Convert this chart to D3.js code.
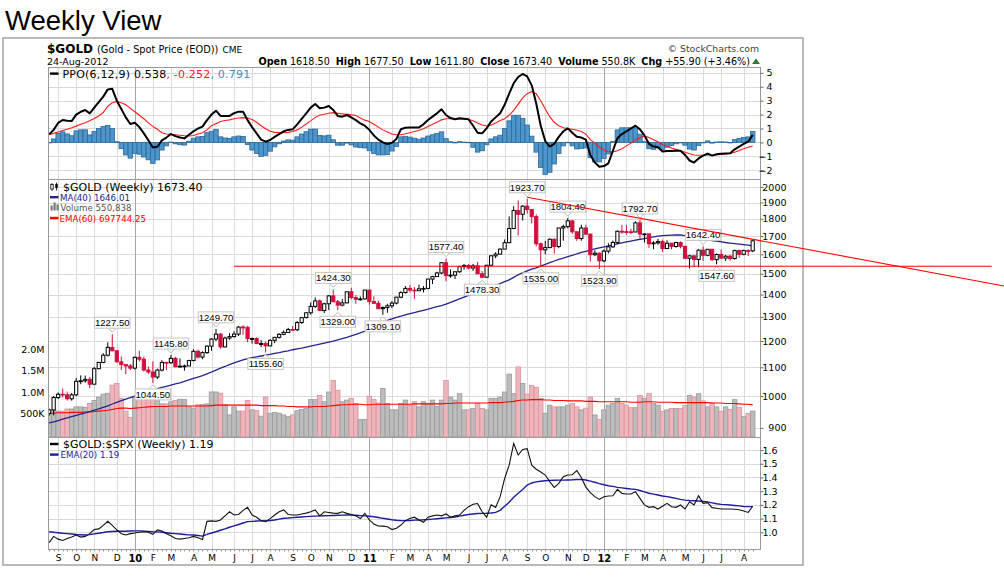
<!DOCTYPE html>
<html><head><meta charset="utf-8">
<script src="https://cdn.jsdelivr.net/npm/d3@7/dist/d3.min.js"></script>
<style>
html,body{margin:0;padding:0;background:#fff;}
svg{display:block;font-family:"DejaVu Sans",Verdana,sans-serif;}
</style></head>
<body>
<svg id="chart" width="1004" height="577"></svg>
<script>
// ---------------- DATA (weekly bars, dated by the Monday of each week) ----------------
const firstWeek = "2009-08-24";
const lastWeek  = "2012-08-20";
const monthLetters = ["J","F","M","A","M","J","J","A","S","O","N","D"];

const opens = [944,955,995,1006,1004,991,1004,1050,1052,1057,
1040,1095,1118,1145,1175,1162,1120,1110,1105,1097,
1137,1130,1090,1083,1065,1090,1118,1117,1133,1102,
1104,1105,1125,1160,1138,1155,1180,1208,1228,1177,
1212,1218,1228,1257,1256,1210,1210,1190,1190,1181,
1203,1215,1227,1235,1247,1246,1276,1297,1318,1346,
1371,1328,1358,1394,1367,1352,1362,1413,1386,1378,
1380,1421,1368,1360,1336,1341,1349,1361,1388,1409,
1429,1421,1418,1427,1429,1474,1486,1504,1556,1491,
1493,1510,1536,1542,1529,1540,1500,1483,1543,1592,
1601,1628,1663,1743,1850,1827,1877,1856,1813,1657,
1624,1636,1682,1642,1746,1754,1788,1724,1686,1746,
1711,1598,1606,1566,1617,1640,1664,1727,1725,1724,
1723,1776,1711,1712,1657,1662,1669,1631,1660,1642,
1664,1643,1579,1592,1573,1622,1595,1627,1572,1599,
1580,1590,1578,1620,1600,1620,1618.5];
const highs = [959,1000,1012,1025,1015,1010,1062,1071,1070,1065,
1101,1120,1153,1195,1227.5,1165,1140,1112,1112,1140,
1162,1140,1103,1122,1095,1126,1120,1145.8,1139,1133,
1110,1128,1168,1167,1160,1183,1212,1249.7,1232,1218,
1232,1240,1261,1265,1262,1214,1215,1204,1198,1207,
1215,1232,1243,1254,1262,1283,1300,1320,1364,1387,
1378,1363,1398,1424.3,1375,1379,1415,1432,1397,1391,
1421,1423,1392,1372,1346,1358,1370,1390,1416,1440,
1445,1435,1447,1440,1475,1490,1510,1560,1577.4,1521,
1512,1538,1549,1550,1550,1560,1514,1545,1595,1611,
1632,1681,1814,1877,1913,1884,1923.7,1860,1827,1663,
1673,1686,1686,1747,1765,1804.4,1790,1725,1765,1763,
1713,1621,1610,1626,1660,1675,1732,1764,1763,1740,
1786,1792.7,1715,1714,1672,1684,1680,1676,1660,1668,
1670,1645,1597,1595,1627,1642.4,1628,1628,1605,1625,
1597,1597,1625,1626,1625,1627,1677.5];
const lows = [937,938,990,996,985,985,1000,1040,1045,1027,
1040,1093,1115,1140,1160,1118,1090,1075,1090,1092,
1122,1085,1076,1044.5,1058,1085,1090,1112,1100,1100,
1088,1105,1122,1133,1130,1150,1162,1200,1170,1175,
1205,1214,1220,1225,1195,1190,1188,1176,1155.6,1180,
1192,1210,1223,1235,1240,1240,1270,1294,1310,1340,
1328,1317,1330,1366,1329,1346,1360,1378,1358,1372,
1378,1354,1358,1334,1309.1,1318,1338,1355,1383,1405,
1410,1380,1418,1410,1425,1450,1485,1498,1463,1480,
1474,1505,1521,1522,1514,1498,1478.3,1480,1540,1580,
1600,1628,1660,1741,1703,1790,1832,1772,1642,1535,
1600,1633,1603,1633,1674,1743,1713,1673,1674,1707,
1562,1590,1523.9,1560,1605,1635,1655,1713,1707,1710,
1722,1688,1664,1635,1627,1652,1612,1630,1627,1636,
1632,1577,1527,1534,1532,1565,1590,1565,1547.6,1575,
1565,1567,1572,1582,1595,1591,1611.8];
const closes = [955,995,1006,1004,991,1004,1050,1052,1057,1040,
1095,1118,1145,1175,1162,1120,1110,1105,1097,1137,
1130,1090,1083,1065,1090,1118,1117,1133,1102,1104,
1105,1125,1160,1138,1155,1180,1208,1228,1177,1212,
1218,1228,1257,1256,1210,1210,1190,1190,1181,1203,
1215,1227,1235,1247,1246,1276,1297,1318,1346,1371,
1328,1358,1394,1367,1352,1362,1413,1386,1378,1380,
1421,1368,1360,1336,1341,1349,1361,1388,1409,1429,
1421,1418,1427,1429,1474,1486,1504,1556,1491,1493,
1510,1536,1542,1529,1540,1500,1483,1543,1592,1601,
1628,1663,1743,1850,1827,1877,1856,1813,1657,1624,
1636,1682,1642,1746,1754,1788,1724,1686,1746,1711,
1598,1606,1566,1617,1640,1664,1727,1725,1724,1723,
1776,1711,1712,1657,1662,1669,1631,1660,1642,1664,
1643,1579,1592,1573,1622,1595,1627,1572,1599,1580,
1590,1578,1620,1600,1620,1617,1673.4];
// volume in millions
const volumes = [0.55,0.58,0.55,0.55,0.6,0.6,0.65,0.65,0.64,0.73,
0.8,0.88,0.95,0.97,1.16,1.2,0.85,0.55,0.4,0.88,
0.9,0.9,0.88,0.95,0.88,0.72,0.72,0.77,0.8,0.83,
0.82,0.65,0.62,0.7,0.7,0.72,1.0,1.0,0.97,0.7,
0.46,0.65,0.55,0.55,0.8,0.58,0.56,0.43,0.88,0.5,
0.52,0.5,0.46,0.42,0.46,0.56,0.59,0.61,0.82,0.82,
0.92,0.77,1.0,1.27,1.04,0.77,0.81,0.85,0.73,0.35,
0.35,0.9,0.82,0.74,1.08,0.73,0.58,0.58,0.73,0.81,
0.69,0.77,0.65,0.77,0.73,0.81,0.66,0.81,1.27,0.88,
0.81,0.96,0.58,0.58,0.61,0.73,0.61,0.58,0.85,0.85,
0.88,1.0,1.42,0.96,1.59,1.2,0.95,1.15,1.11,0.85,
0.5,0.69,0.65,0.65,0.65,0.69,0.73,0.65,0.58,0.62,
0.88,0.46,0.35,0.58,0.69,0.73,0.85,0.73,0.69,0.63,
0.63,0.92,0.85,0.96,0.73,0.69,0.54,0.58,0.61,0.61,
0.61,0.68,0.92,0.88,0.96,0.79,0.65,0.74,0.65,0.54,
0.65,0.59,0.82,0.64,0.42,0.5,0.550838];
const ma40 = [915,918,922,926,930,934,938,942,946,950,
954,958,963,968,974,979,985,990,995,1000,
1005,1010,1015,1020,1025,1029,1033,1037,1041,1045,
1050,1055,1060,1065,1070,1076,1083,1090,1097,1103,
1110,1116,1122,1127,1132,1136,1139,1142,1145,1148,
1152,1155,1159,1162,1166,1169,1172,1176,1180,1184,
1188,1192,1196,1200,1205,1210,1215,1221,1227,1233,
1240,1249,1258,1268,1278,1285,1292,1298,1303,1309,
1314,1319,1324,1329,1334,1340,1345,1350,1356,1364,
1372,1380,1388,1396,1403,1410,1418,1426,1434,1443,
1452,1461,1470,1482,1495,1505,1515,1523,1530,1539,
1548,1557,1565,1573,1580,1588,1595,1603,1610,1616,
1622,1629,1635,1640,1645,1651,1656,1662,1667,1672,
1677,1682,1686,1691,1695,1699,1702,1704,1705,1706,
1706,1702,1697,1692,1686,1681,1677,1674,1671,1668,
1664,1661,1658,1655,1652,1649,1646.01];
const volEma60 = [0.50,0.50,0.51,0.51,0.51,0.52,0.52,0.52,0.53,0.53,
0.54,0.55,0.56,0.57,0.59,0.61,0.62,0.62,0.61,0.62,
0.63,0.64,0.65,0.66,0.66,0.66,0.66,0.67,0.67,0.67,
0.67,0.67,0.67,0.67,0.67,0.67,0.68,0.69,0.69,0.69,
0.69,0.69,0.69,0.69,0.69,0.69,0.69,0.68,0.68,0.68,
0.68,0.67,0.67,0.66,0.66,0.65,0.65,0.65,0.65,0.66,
0.66,0.66,0.67,0.68,0.69,0.70,0.70,0.71,0.71,0.71,
0.70,0.70,0.71,0.71,0.71,0.71,0.71,0.71,0.71,0.71,
0.71,0.72,0.72,0.72,0.72,0.72,0.72,0.72,0.73,0.73,
0.74,0.74,0.74,0.74,0.74,0.74,0.74,0.74,0.75,0.75,
0.75,0.76,0.77,0.78,0.80,0.81,0.81,0.82,0.82,0.82,
0.81,0.81,0.80,0.80,0.80,0.79,0.79,0.79,0.79,0.78,
0.78,0.78,0.77,0.77,0.77,0.77,0.77,0.77,0.77,0.76,
0.76,0.76,0.77,0.77,0.77,0.76,0.76,0.76,0.76,0.75,
0.75,0.75,0.75,0.75,0.75,0.75,0.75,0.74,0.74,0.74,
0.73,0.73,0.73,0.72,0.71,0.71,0.6977];
const ppoLine = [0.58,0.9,1.4,1.61,1.55,1.53,2.0,2.2,2.33,2.09,
2.5,2.9,3.29,3.81,3.85,3.0,2.4,1.8,1.32,1.41,
1.1,0.65,0.15,-0.36,-0.31,0.15,0.35,0.6,0.45,0.35,
0.29,0.55,0.8,1.0,1.13,1.6,2.0,2.28,1.9,1.9,
1.9,2.1,2.21,2.21,1.6,1.1,0.65,0.2,0.05,0.17,
0.4,0.6,0.8,0.9,0.94,1.3,1.7,2.09,2.5,2.76,
2.45,2.5,2.62,2.33,1.9,1.85,1.97,1.8,1.6,1.37,
1.2,0.9,0.5,0.2,0.0,-0.12,-0.02,0.25,0.95,1.06,
1.08,1.08,1.08,1.3,1.61,1.85,2.1,2.38,1.97,1.75,
1.66,1.73,1.7,1.66,1.2,0.7,0.65,1.01,1.5,1.8,
2.09,2.7,3.5,4.25,4.7,4.92,4.75,4.1,2.8,1.2,
0.1,-0.3,-0.1,0.4,0.8,1.01,0.7,0.4,0.35,0.2,
-0.9,-1.45,-1.75,-1.7,-1.5,-0.6,0.3,0.6,0.8,1.0,
1.2,0.94,0.5,-0.1,-0.3,-0.35,-0.65,-0.62,-0.62,-0.6,
-0.6,-0.9,-1.3,-1.45,-1.15,-0.95,-0.8,-0.95,-0.85,-0.82,
-0.8,-0.78,-0.5,-0.3,-0.1,0.05,0.538];
const ppoSignal = [0.58,0.65,0.75,0.85,0.94,1.05,1.17,1.3,1.42,1.55,
1.72,1.9,2.15,2.6,2.85,2.95,2.85,2.7,2.45,2.2,
1.95,1.7,1.4,1.15,0.95,0.7,0.6,0.58,0.55,0.52,
0.48,0.46,0.5,0.6,0.7,0.9,1.2,1.35,1.5,1.58,
1.62,1.7,1.75,1.78,1.75,1.65,1.45,1.2,0.98,0.8,
0.72,0.7,0.7,0.72,0.78,0.9,1.1,1.32,1.55,1.8,
1.95,2.03,2.1,2.14,2.1,2.05,2.02,1.98,1.93,1.75,
1.6,1.5,1.3,1.1,0.9,0.75,0.6,0.55,0.55,0.62,
0.7,0.78,0.85,0.98,1.15,1.3,1.45,1.62,1.7,1.7,
1.68,1.68,1.68,1.65,1.55,1.4,1.25,1.18,1.25,1.4,
1.57,1.7,1.95,2.3,2.75,3.2,3.5,3.65,3.5,3.0,
2.4,1.85,1.45,1.2,1.05,1.0,0.95,0.87,0.78,0.6,
0.2,-0.05,-0.35,-0.55,-0.67,-0.68,-0.6,-0.45,-0.25,-0.05,
0.15,0.35,0.45,0.35,0.2,0.05,-0.15,-0.28,-0.4,-0.5,
-0.6,-0.7,-0.82,-0.9,-0.92,-0.92,-0.91,-0.9,-0.88,-0.86,
-0.83,-0.78,-0.7,-0.58,-0.46,-0.35,-0.252];
const ppoHist = [0,0.25,0.65,0.76,0.61,0.48,0.83,0.9,0.91,0.54,
0.78,1.0,1.14,1.21,1.0,0.05,-0.45,-0.9,-1.13,-0.79,
-0.85,-1.05,-1.25,-1.51,-1.26,-0.55,-0.25,0.02,-0.1,-0.17,
-0.19,0.09,0.3,0.4,0.43,0.7,0.8,0.93,0.4,0.32,
0.28,0.4,0.46,0.43,-0.15,-0.55,-0.8,-1.0,-0.93,-0.63,
-0.32,-0.1,0.1,0.18,0.16,0.4,0.6,0.77,0.95,0.96,
0.5,0.47,0.52,0.19,-0.2,-0.2,-0.05,-0.18,-0.33,-0.38,
-0.4,-0.6,-0.8,-0.9,-0.9,-0.87,-0.62,-0.3,0.4,0.44,
0.38,0.3,0.23,0.32,0.46,0.55,0.65,0.76,0.27,0.05,
-0.02,0.05,0.02,0.01,-0.35,-0.7,-0.6,-0.17,0.25,0.4,
0.52,1.0,1.55,1.95,1.95,1.72,1.25,0.45,-0.7,-1.8,
-2.3,-2.15,-1.55,-0.8,-0.25,0.01,-0.25,-0.47,-0.43,-0.4,
-1.1,-1.4,-1.4,-1.15,-0.83,0.08,0.9,1.05,1.05,1.05,
1.05,0.59,0.05,-0.45,-0.5,-0.4,-0.5,-0.34,-0.22,-0.1,
0.0,-0.2,-0.48,-0.55,-0.23,-0.03,0.11,-0.05,0.03,0.04,
0.03,0.0,0.2,0.28,0.36,0.4,0.791];
const goldSpxRatio = [0.925,0.97,0.95,0.94,0.955,0.965,0.98,0.965,0.97,0.99,
1.02,1.025,1.05,1.08,1.05,1.017,0.99,0.98,0.99,0.995,
1.0,1.004,1.0,0.985,1.017,1.01,0.99,0.975,0.955,0.95,
0.955,0.96,0.97,0.96,0.948,1.08,1.083,1.08,1.09,1.12,
1.15,1.126,1.13,1.16,1.182,1.126,1.11,1.085,1.078,1.1,
1.126,1.15,1.163,1.13,1.126,1.126,1.133,1.14,1.15,1.163,
1.12,1.15,1.145,1.14,1.138,1.15,1.138,1.13,1.12,1.1,
1.138,1.09,1.06,1.046,1.045,1.041,1.02,1.03,1.053,1.085,
1.1,1.11,1.09,1.073,1.11,1.12,1.126,1.12,1.134,1.11,
1.12,1.126,1.16,1.187,1.205,1.21,1.15,1.11,1.2,1.182,
1.26,1.393,1.49,1.649,1.564,1.605,1.61,1.49,1.46,1.44,
1.418,1.37,1.328,1.357,1.406,1.418,1.42,1.45,1.4,1.33,
1.29,1.26,1.24,1.26,1.265,1.267,1.313,1.284,1.28,1.279,
1.296,1.248,1.2,1.182,1.187,1.17,1.19,1.211,1.187,1.182,
1.199,1.17,1.223,1.199,1.267,1.211,1.216,1.18,1.175,1.17,
1.17,1.17,1.168,1.165,1.155,1.145,1.19];
const ratioEma20 = [1.004,1.0,0.997,0.993,0.99,0.987,0.984,0.982,0.98,0.983,
0.988,0.993,0.998,1.004,1.006,1.008,1.008,1.008,1.009,1.01,
1.01,1.008,1.006,1.004,1.003,1.0,0.997,0.993,0.99,0.987,
0.984,0.981,0.98,0.977,0.972,0.985,0.995,1.004,1.015,1.025,
1.037,1.047,1.057,1.068,1.078,1.08,1.082,1.083,1.084,1.086,
1.09,1.096,1.102,1.104,1.107,1.11,1.112,1.114,1.116,1.118,
1.12,1.121,1.122,1.123,1.124,1.125,1.126,1.125,1.124,1.122,
1.12,1.117,1.113,1.108,1.102,1.097,1.092,1.088,1.085,1.085,
1.086,1.089,1.09,1.091,1.093,1.096,1.099,1.102,1.105,1.108,
1.112,1.118,1.124,1.13,1.134,1.137,1.138,1.139,1.141,1.145,
1.16,1.19,1.22,1.255,1.285,1.313,1.345,1.36,1.368,1.373,
1.376,1.379,1.38,1.381,1.381,1.382,1.383,1.385,1.386,1.382,
1.374,1.365,1.355,1.347,1.34,1.335,1.328,1.324,1.32,1.316,
1.313,1.305,1.295,1.285,1.279,1.272,1.265,1.26,1.254,1.248,
1.24,1.235,1.232,1.23,1.228,1.225,1.222,1.215,1.208,1.204,
1.202,1.199,1.196,1.193,1.188,1.187,1.187];
// swing labels: [bar Monday, price, kind]
const swingLabels = [["2009-11-30",1227.5,"high"],["2010-02-01",1044.5,"low"],["2010-03-01",1145.8,"high"],
["2010-05-10",1249.7,"high"],["2010-07-26",1155.6,"low"],["2010-11-08",1424.3,"high"],["2010-11-15",1329.0,"low"],
["2011-01-24",1309.1,"low"],["2011-05-02",1577.4,"high"],["2011-06-27",1478.3,"low"],["2011-09-05",1923.7,"high"],
["2011-09-26",1535.0,"low"],["2011-11-07",1804.4,"high"],["2011-12-26",1523.9,"low"],["2012-02-27",1792.7,"high"],
["2012-06-04",1642.4,"high"],["2012-06-25",1547.6,"low"]];
// drawn annotations
const supportLine = {from:"2010-06-07", to:"2013-08-26", price:1538};
const trendLine = {from:["2011-09-05",1933], to:["2012-08-20",1682]};
// axis ticks
const ppoTicks = [-2,-1,0,1,2,3,4,5];
const priceTicks = [900,1000,1100,1200,1300,1400,1500,1600,1700,1800,1900,2000];
const volTicks = [0.5,1.0,1.5,2.0];
const ratioTicks = [1.0,1.1,1.2,1.3,1.4,1.5,1.6];

// ---------------- LAYOUT ----------------
const L=48, R=760;
const P1={top:67,bottom:179}, P2={top:179,bottom:437}, P3={top:437,bottom:549};
const parse=d3.timeParse("%Y-%m-%d");
const dates=d3.timeMonday.range(parse(firstWeek), d3.timeDay.offset(parse(lastWeek),1));
const N=dates.length;
const x=d3.scaleTime().domain([dates[0],dates[N-1]]).range([49.14,752.7]);
const BW=(x(dates[N-1])-x(dates[0]))/(N-1);
const yP=d3.scaleLinear().domain([-2.63,5.42]).range([P1.bottom,P1.top]);
const yM=d3.scaleLog().domain([873,2054]).range([P2.bottom,P2.top]);
const yV=d3.scaleLinear().domain([0,6.01]).range([434.5,P2.top]);
const yR=d3.scaleLinear().domain([0.878,1.6956]).range([P3.bottom,P3.top]);

const svg=d3.select("#chart");
svg.append("rect").attr("width",1004).attr("height",577).attr("fill","#fff");
const defs=svg.append("defs");
[["cP",P1],["cM",P2],["cR",P3]].forEach(([id,p])=>{
  defs.append("clipPath").attr("id",id).append("rect").attr("x",L).attr("y",p.top).attr("width",R-L).attr("height",p.bottom-p.top);
});

// title + outer frame
svg.append("text").attr("x",5).attr("y",30).attr("font-family","Liberation Sans, Arial, sans-serif").attr("font-size",27.5).text("Weekly View");
svg.append("rect").attr("x",3).attr("y",38).attr("width",800).attr("height",527).attr("fill","none").attr("stroke","#a8a8a8").attr("stroke-width",1.6);

// header
const hdr=svg.append("g").attr("fill","#000");
const t1=hdr.append("text").attr("x",47).attr("y",53);
t1.append("tspan").attr("font-weight","bold").attr("font-size",12).text("$GOLD");
t1.append("tspan").attr("font-size",9.8).attr("dx",4).text("(Gold - Spot Price (EOD))");
t1.append("tspan").attr("font-size",9).attr("dx",4).text("CME");
hdr.append("text").attr("x",47).attr("y",65).attr("font-size",9.5).text("24-Aug-2012");
hdr.append("text").attr("x",759).attr("y",52).attr("font-size",9.3).attr("fill","#444").attr("text-anchor","end").text("\u00A9 StockCharts.com");
const t2=hdr.append("text").attr("x",750).attr("y",65).attr("font-size",9.65).attr("text-anchor","end");
[["Open","1618.50"],["High","1677.50"],["Low","1611.80"],["Close","1673.40"],["Volume","550.8K"],["Chg","+55.90 (+3.46%)"]].forEach(([k,v],j)=>{
  t2.append("tspan").attr("font-weight","bold").attr("dx",j?6:0).text(k);
  t2.append("tspan").attr("dx",3).text(v);
});
hdr.append("path").attr("d","M752,64 L756,58.5 L760,64 Z").attr("fill","#2e7d32");

// ---------------- GRIDS ----------------
const monthStarts=dates.filter((d,i)=>i>0 && d.getMonth()!==dates[i-1].getMonth());
function grid(p,ticks,ys){
  const g=svg.append("g");
  g.selectAll("line.h").data(ticks).join("line").attr("class","h")
    .attr("x1",L).attr("x2",R).attr("y1",d=>Math.round(ys(d))+0.5).attr("y2",d=>Math.round(ys(d))+0.5)
    .attr("stroke","#dadada");
  g.selectAll("line.v").data(monthStarts).join("line").attr("class","v")
    .attr("y1",p.top).attr("y2",p.bottom).attr("x1",d=>Math.round(x(d))+0.5).attr("x2",d=>Math.round(x(d))+0.5)
    .attr("stroke",d=>d.getMonth()===0?"#a6a6a6":"#dadada");
}
grid(P1,ppoTicks,yP);
grid(P2,priceTicks,yM);
grid(P3,ratioTicks,yR);

// ---------------- PPO PANEL ----------------
const gP=svg.append("g").attr("clip-path","url(#cP)");
gP.selectAll("rect").data(ppoHist).join("rect")
  .attr("x",(d,i)=>x(dates[i])-BW/2).attr("width",BW)
  .attr("y",d=>Math.min(yP(d),yP(0))).attr("height",d=>Math.max(0.5,Math.abs(yP(d)-yP(0))))
  .attr("fill","#4d96cc").attr("stroke","#2b6899").attr("stroke-width",0.8);
const lineP=d3.line().x((d,i)=>x(dates[i])).y(d=>yP(d));
gP.append("path").attr("d",lineP(ppoSignal)).attr("fill","none").attr("stroke","#ff1a1a").attr("stroke-width",1.1);
gP.append("path").attr("d",lineP(ppoLine)).attr("fill","none").attr("stroke","#000").attr("stroke-width",2).attr("stroke-linejoin","round");

// ---------------- PRICE PANEL ----------------
const gM=svg.append("g").attr("clip-path","url(#cM)");
const down=i=>i>0 && closes[i]<closes[i-1];
gM.selectAll("rect.vol").data(volumes).join("rect").attr("class","vol")
  .attr("x",(d,i)=>x(dates[i])-BW/2).attr("width",BW)
  .attr("y",d=>yV(d)).attr("height",d=>P2.bottom-yV(d))
  .attr("fill",(d,i)=>down(i)?"#edb6bc":"#bcbcbc")
  .attr("stroke",(d,i)=>down(i)?"#df8e9a":"#9a9a9a").attr("stroke-width",0.8);
gM.append("path").attr("d",d3.line().x((d,i)=>x(dates[i])).y(d=>yV(d))(volEma60)).attr("fill","none").attr("stroke","#ff0000").attr("stroke-width",1.1);
gM.append("path").attr("d",d3.line().x((d,i)=>x(dates[i])).y(d=>yM(d))(ma40)).attr("fill","none").attr("stroke","#23238e").attr("stroke-width",1.3);
const cg=gM.append("g");
closes.forEach((c,i)=>{
  const cx=x(dates[i]), o=opens[i];
  const col=down(i)?"#d1103d":"#000";
  cg.append("line").attr("x1",cx).attr("x2",cx).attr("y1",yM(highs[i])).attr("y2",yM(lows[i])).attr("stroke",col).attr("stroke-width",1);
  const top=yM(Math.max(o,c)), bot=yM(Math.min(o,c));
  cg.append("rect").attr("x",cx-1.6).attr("width",3.2).attr("y",top).attr("height",Math.max(0.8,bot-top))
    .attr("fill",c>o?"#fff":col).attr("stroke",col).attr("stroke-width",1);
});
// swing labels
const lg=svg.append("g").attr("font-family","Liberation Sans, Arial, sans-serif").attr("font-size",9.6);
swingLabels.forEach(([ds,v,kind])=>{
  const cx=x(parse(ds)), py=yM(v);
  const txt=v.toFixed(2);
  const w=35.5, h=11;
  const by= kind==="high" ? py-6-h : py+6;
  const tipY = kind==="high" ? by+h+4 : by-4;
  const baseY = kind==="high" ? by+h : by;
  lg.append("path").attr("d",`M${cx-4},${baseY} L${cx},${tipY} L${cx+4},${baseY}`).attr("fill","#fff").attr("stroke","#bdbdbd").attr("stroke-width",1);
  lg.append("rect").attr("x",cx-w/2).attr("y",by).attr("width",w).attr("height",h).attr("fill","#fff").attr("stroke","#c4c4c4").attr("stroke-width",1);
  lg.append("text").attr("x",cx).attr("y",by+h-2.2).attr("text-anchor","middle").text(txt);
});

// ---------------- RATIO PANEL ----------------
const gR=svg.append("g").attr("clip-path","url(#cR)");
const lineR=d3.line().x((d,i)=>x(dates[i])).y(d=>yR(d));
gR.append("path").attr("d",lineR(ratioEma20)).attr("fill","none").attr("stroke","#1c1c9e").attr("stroke-width",1.4);
gR.append("path").attr("d",lineR(goldSpxRatio)).attr("fill","none").attr("stroke","#111").attr("stroke-width",1.1);

// panel frames
[P1,P2,P3].forEach(p=>svg.append("rect").attr("x",L+0.5).attr("y",p.top+0.5).attr("width",R-L).attr("height",p.bottom-p.top).attr("fill","none").attr("stroke","#9a9a9a"));

// ---------------- AXES ----------------
function rightAxis(ys,ticks,fmt,endX){
  const g=svg.append("g").attr("transform",`translate(${R+0.5},0)`)
    .call(d3.axisRight(ys).tickValues(ticks).tickFormat(fmt).tickSize(3).tickSizeOuter(0));
  g.select(".domain").remove();
  g.selectAll(".tick line").attr("stroke","#666");
  g.selectAll(".tick text").attr("text-anchor","end").attr("x",endX).attr("font-family","DejaVu Sans").attr("font-size",9.5).attr("fill","#000");
}
rightAxis(yP,ppoTicks,d3.format("d"),12);
rightAxis(yM,priceTicks,d3.format("d"),26);
rightAxis(yR,ratioTicks,d3.format(".1f"),17);
const va=svg.append("g").attr("transform",`translate(${L},0)`)
  .call(d3.axisLeft(yV).tickValues(volTicks).tickFormat(v=>v<1?(v*1000)+"K":v.toFixed(1)+"M").tickSize(0).tickPadding(3.5));
va.select(".domain").remove();
va.selectAll(".tick text").attr("font-family","DejaVu Sans").attr("font-size",9.5).attr("fill","#000");

const xa=svg.append("g").attr("transform",`translate(0,${P3.bottom})`)
  .call(d3.axisBottom(x).tickValues(monthStarts).tickSize(0).tickPadding(5.6)
    .tickFormat(d=>d.getMonth()===0?String(d.getFullYear()).slice(2):monthLetters[d.getMonth()]));
xa.select(".domain").remove();
xa.selectAll(".tick text").attr("font-family","DejaVu Sans").attr("fill","#000")
  .attr("font-weight",d=>d.getMonth()===0?"bold":"normal").attr("font-size",d=>d.getMonth()===0?10:9);
svg.append("g").selectAll("line").data(dates).join("line")
  .attr("x1",d=>Math.round(x(d))+0.5).attr("x2",d=>Math.round(x(d))+0.5).attr("y1",P3.bottom).attr("y2",P3.bottom+2.5).attr("stroke","#999");

// ---------------- LEGENDS ----------------
function marker(y,col){svg.append("line").attr("x1",50).attr("x2",58.5).attr("y1",y).attr("y2",y).attr("stroke",col).attr("stroke-width",2.4);}
marker(73.6,"#000");
const tp=svg.append("text").attr("x",62.5).attr("y",78).attr("font-size",11).attr("letter-spacing",0.2);
tp.append("tspan").attr("fill","#000").text("PPO(6,12,9) 0.538");
tp.append("tspan").attr("fill","#ff1a1a").text(", -0.252");
tp.append("tspan").attr("fill","#3b8fc6").text(", 0.791");
// candle icon
svg.append("path").attr("d","M52,183 V191 M56.5,182.5 V190.5").attr("stroke","#000").attr("stroke-width",0.8);
svg.append("rect").attr("x",50.8).attr("y",184.5).attr("width",2.4).attr("height",4.5).attr("fill","#fff").attr("stroke","#000").attr("stroke-width",0.8);
svg.append("rect").attr("x",55.3).attr("y",184).attr("width",2.4).attr("height",4).attr("fill","#000");
svg.append("text").attr("x",63).attr("y",190.5).attr("font-size",11).text("$GOLD (Weekly) 1673.40");
marker(197.2,"#23238e");
svg.append("text").attr("x",60).attr("y",200.8).attr("font-size",8.7).attr("fill","#23238e").text("MA(40) 1646.01");
[[50.5,5],[53.5,8],[56.5,6]].forEach(([bx,bh])=>svg.append("rect").attr("x",bx).attr("y",210.5-bh).attr("width",2.2).attr("height",bh).attr("fill","#777"));
svg.append("text").attr("x",60.5).attr("y",211.2).attr("font-size",8.7).attr("fill","#555").text("Volume 550,838");
marker(218,"#ff0000");
svg.append("text").attr("x",59.5).attr("y",221.6).attr("font-size",8.7).attr("fill","#ff0000").text("EMA(60) 697744.25");
marker(444,"#000");
svg.append("text").attr("x",63).attr("y",447.6).attr("font-size",11).text("$GOLD:$SPX (Weekly) 1.19");
marker(454.6,"#1c1c9e");
svg.append("text").attr("x",60.5).attr("y",458.3).attr("font-size",8.7).attr("fill","#1c1c9e").text("EMA(20) 1.19");

// ---------------- ANNOTATION LINES (drawn over everything, unclipped) ----------------
const sy=yM(supportLine.price);
svg.append("line").attr("x1",x(parse(supportLine.from))).attr("x2",x(parse(supportLine.to))).attr("y1",sy).attr("y2",sy)
  .attr("stroke","#ff0000").attr("stroke-width",1.1);
const ax=x(parse(trendLine.from[0])), ay=yM(trendLine.from[1]);
const bx=x(parse(trendLine.to[0])), by=yM(trendLine.to[1]);
const slope=(by-ay)/(bx-ax);
svg.append("line").attr("x1",ax).attr("y1",ay).attr("x2",1004).attr("y2",ay+slope*(1004-ax))
  .attr("stroke","#ff0000").attr("stroke-width",1.1);
</script>
</body></html>
